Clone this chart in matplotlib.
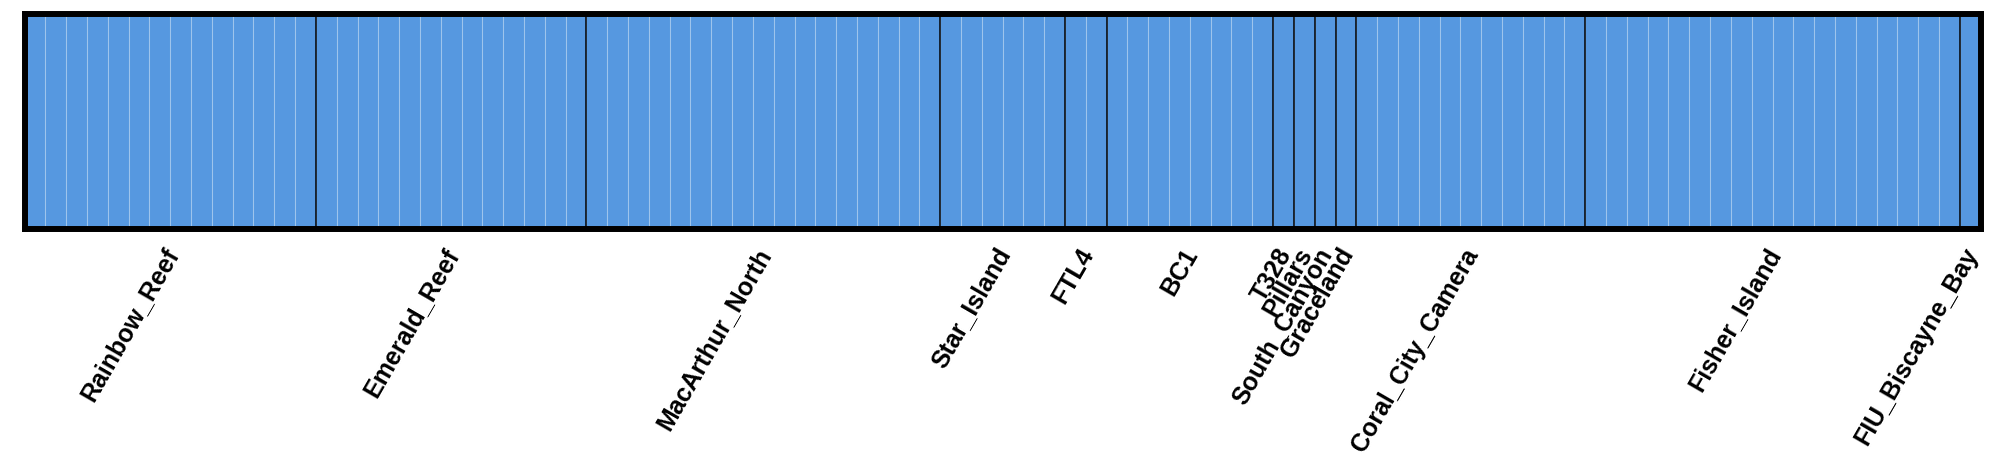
import matplotlib

matplotlib.use("Agg")
import matplotlib.pyplot as plt
import matplotlib.transforms as mtransforms
import numpy as np

# populations in plot order and number of samples in each
pops = ["Rainbow_Reef", "Emerald_Reef", "MacArthur_North", "Star_Island", "FTL4",
        "BC1", "T328", "Pillars", "South_Canyon", "Graceland",
        "Coral_City_Camera", "Fisher_Island", "FIU_Biscayne_Bay"]
n_samples = [14, 13, 17, 6, 2, 8, 1, 1, 1, 1, 11, 18, 1]

# ancestry proportion of cluster 1 per sample (K=1, every sample fully assigned)
q_cluster1 = [
    1.0, 1.0, 1.0, 1.0, 1.0, 1.0, 1.0, 1.0, 1.0, 1.0, 1.0, 1.0, 1.0, 1.0,
    1.0, 1.0, 1.0, 1.0, 1.0, 1.0, 1.0, 1.0, 1.0, 1.0, 1.0, 1.0, 1.0,
    1.0, 1.0, 1.0, 1.0, 1.0, 1.0, 1.0, 1.0, 1.0, 1.0, 1.0, 1.0, 1.0, 1.0, 1.0, 1.0, 1.0,
    1.0, 1.0, 1.0, 1.0, 1.0, 1.0,
    1.0, 1.0,
    1.0, 1.0, 1.0, 1.0, 1.0, 1.0, 1.0, 1.0,
    1.0,
    1.0,
    1.0,
    1.0,
    1.0, 1.0, 1.0, 1.0, 1.0, 1.0, 1.0, 1.0, 1.0, 1.0, 1.0,
    1.0, 1.0, 1.0, 1.0, 1.0, 1.0, 1.0, 1.0, 1.0, 1.0, 1.0, 1.0, 1.0, 1.0, 1.0, 1.0, 1.0, 1.0,
    1.0,
]

_BLUE = "#5698e0"

plt.rcParams["font.family"] = ["Liberation Sans", "DejaVu Sans"]

fig = plt.figure(figsize=(20, 4.66), dpi=100)
ax = fig.add_axes([0.0123, 0.5092, 0.978, 0.4607])

x = np.arange(len(q_cluster1))
ax.bar(x, q_cluster1, width=1.0, align="edge", color=_BLUE,
       edgecolor=(1, 1, 1, 0.2), linewidth=0.8)

bounds = np.cumsum(n_samples)
for b in bounds[:-1]:
    ax.axvline(b, color="black", linewidth=1.1)

centers = bounds - np.array(n_samples) / 2
ax.set_xticks(centers)
ax.set_xticklabels(pops, rotation=60, ha="right", rotation_mode="anchor",
                   fontsize=18, fontweight="bold")
ax.tick_params(axis="x", length=0, pad=11)
# nudge labels a little left so they sit like the original
shift = mtransforms.ScaledTranslation(-8 / 100, 0, fig.dpi_scale_trans)
for lbl in ax.get_xticklabels():
    lbl.set_transform(lbl.get_transform() + shift)
ax.set_yticks([])
ax.set_xlim(0, len(q_cluster1))
ax.set_ylim(0, 1)
for s in ax.spines.values():
    s.set_linewidth(4.3)
    s.set_color("black")

fig.savefig("out.png", dpi=100)
